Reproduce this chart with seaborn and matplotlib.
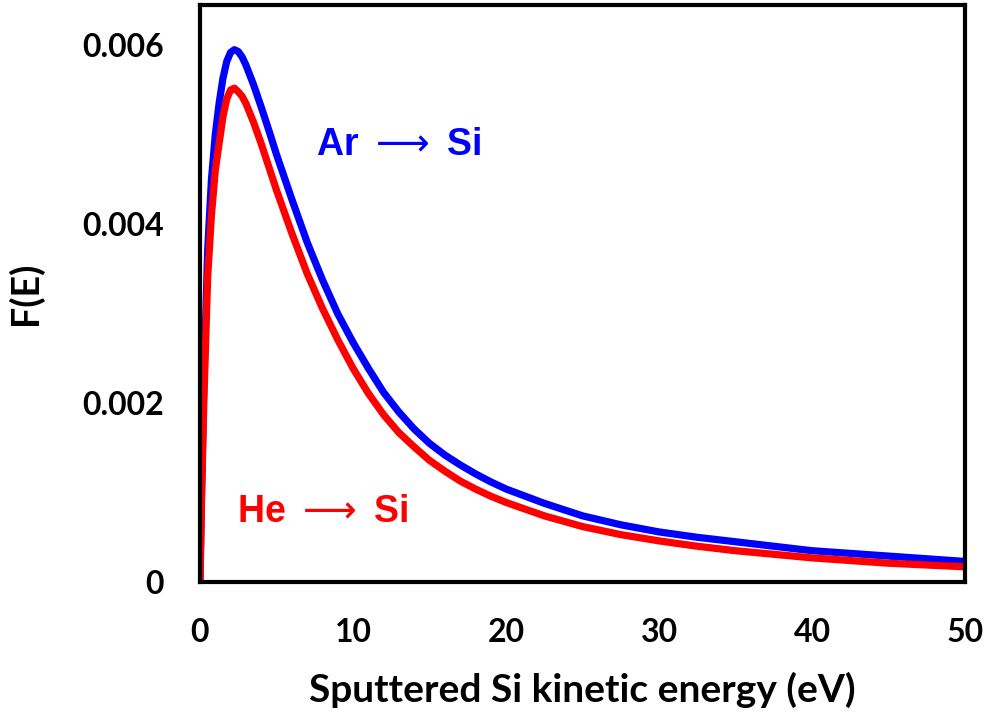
import pandas as pd
import matplotlib
matplotlib.use("Agg")
import matplotlib.pyplot as plt
import seaborn as sns

# energies (eV)
energy = [0, 0.1, 0.25, 0.5, 0.75, 1.0, 1.25, 1.5, 1.75, 2.0, 2.25, 2.5, 2.75,
          3.0, 3.5, 4.0, 4.5, 5.0, 6.0, 7.0, 8.0, 9.0, 10.0, 11.0, 12.0, 13.0,
          14.0, 15.0, 16.0, 17.0, 18.0, 19.0, 20.0, 22.5, 25.0, 27.5, 30.0,
          32.5, 35.0, 37.5, 40.0, 42.5, 45.0, 47.5, 50.0]

# F(E) for Ar -> Si (blue)
f_ar = [0, 0.0010, 0.0022, 0.0037, 0.0045, 0.0050, 0.00535, 0.00563, 0.00582,
        0.00592, 0.00595, 0.00593, 0.00587, 0.00578, 0.00556, 0.00531, 0.00505,
        0.00478, 0.00428, 0.00380, 0.00338, 0.00300, 0.00268, 0.00239, 0.00212,
        0.00190, 0.00171, 0.00155, 0.00142, 0.00131, 0.00121, 0.00112, 0.00104,
        0.00088, 0.00074, 0.00064, 0.00056, 0.00050, 0.00045, 0.00040, 0.00035,
        0.00032, 0.00029, 0.00026, 0.00023]

# F(E) for He -> Si (red)
f_he = [0, 0.0009, 0.0020, 0.0034, 0.0041, 0.0046, 0.0049, 0.0052, 0.0054,
        0.00550, 0.00552, 0.00548, 0.00543, 0.00535, 0.00514, 0.00490, 0.00464,
        0.00438, 0.00390, 0.00345, 0.00306, 0.00271, 0.00239, 0.00211, 0.00187,
        0.00167, 0.00151, 0.00136, 0.00124, 0.00113, 0.00104, 0.00096, 0.00089,
        0.00074, 0.00062, 0.00053, 0.00046, 0.00040, 0.00035, 0.00031, 0.00027,
        0.00024, 0.00021, 0.00019, 0.00017]

xticks = [0, 10, 20, 30, 40, 50]
yticks = [0, 0.002, 0.004, 0.006]
ytick_labels = ["0", "0.002", "0.004", "0.006"]

df = pd.DataFrame({
    "energy": energy * 2,
    "F": f_ar + f_he,
    "system": ["Ar"] * len(energy) + ["He"] * len(energy),
})

sns.set_style("white")
plt.rcParams["font.family"] = ["Lato", "DejaVu Sans"]
plt.rcParams["mathtext.fontset"] = "dejavusans"
plt.rcParams["text.color"] = "black"
plt.rcParams["axes.labelcolor"] = "black"
plt.rcParams["xtick.color"] = "black"
plt.rcParams["ytick.color"] = "black"

fig = plt.figure(figsize=(9.89, 7.13), dpi=100)
ax = fig.add_axes([0.2022, 0.1837, 0.7735, 0.8093])

sns.lineplot(data=df, x="energy", y="F", hue="system",
             palette={"Ar": "#0000FF", "He": "#FF0000"},
             hue_order=["Ar", "He"], linewidth=5.2, legend=False, ax=ax)

ax.set_xlim(0, 50)
ax.set_ylim(0, 0.00645)
ax.set_xticks(xticks)
ax.set_xticklabels([str(t) for t in xticks])
ax.set_yticks(yticks)
ax.set_yticklabels(ytick_labels)
ax.tick_params(length=0, pad=26, labelsize=23, labelcolor="black")
for lab in ax.get_xticklabels() + ax.get_yticklabels():
    lab.set_fontweight("bold")

ax.set_xlabel("Sputtered Si kinetic energy (eV)", fontsize=28,
              fontweight="bold", labelpad=18, color="black")
ax.set_ylabel("F(E)", fontsize=27, fontweight="bold", labelpad=28,
              color="black")

for side in ["top", "right", "left", "bottom"]:
    ax.spines[side].set_color("black")
    ax.spines[side].set_linewidth(3)

ax.text(7.6, 0.00489, r"Ar $\longrightarrow\;$Si", color="#0000FF",
        fontsize=27, fontweight="bold",
        family=["Liberation Sans", "DejaVu Sans"], ha="left", va="center")
ax.text(2.4, 0.00078, r"He $\longrightarrow\;$Si", color="#FF0000",
        fontsize=27, fontweight="bold",
        family=["Liberation Sans", "DejaVu Sans"], ha="left", va="center")

fig.savefig("out.png", dpi=100)
